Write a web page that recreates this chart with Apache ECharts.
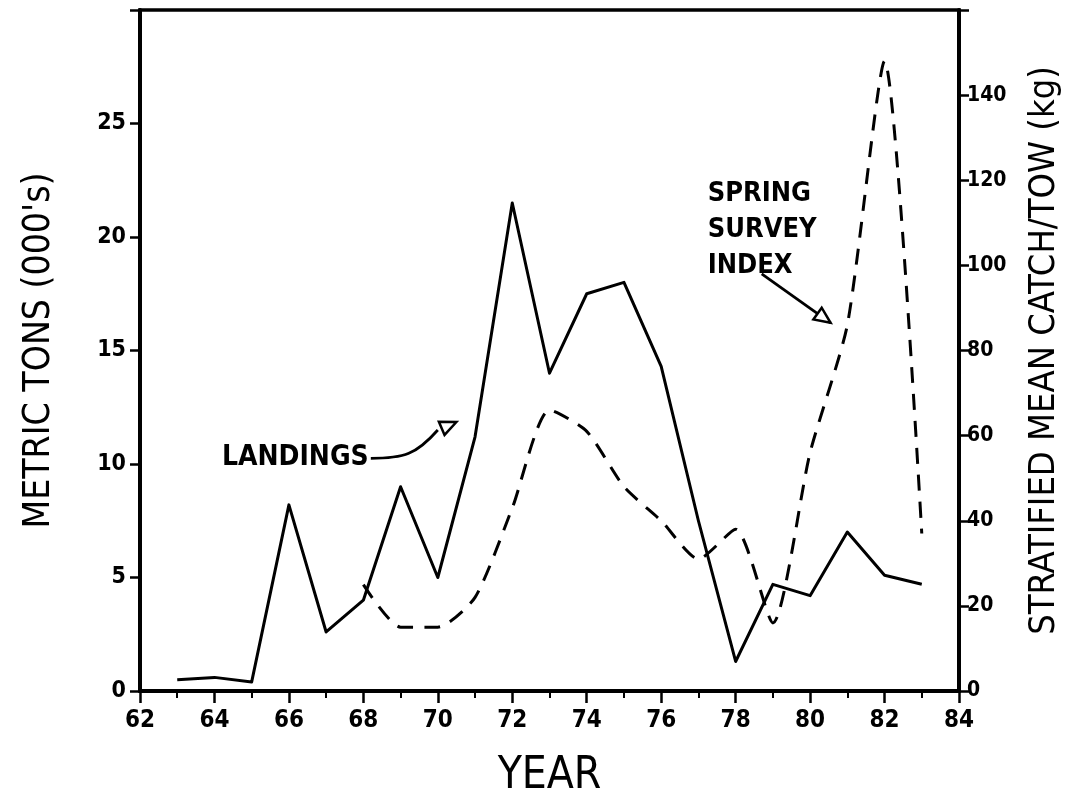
<!DOCTYPE html>
<html>
<head>
<meta charset="utf-8">
<script src="https://cdn.jsdelivr.net/npm/echarts@6/dist/echarts.min.js"></script>
<style>
  html, body { margin: 0; padding: 0; background: #fff; }
  #chart { width: 1077px; height: 805px; }
</style>
</head>
<body>
<div id="chart"></div>
<script>
// Commercial landings (thousands of metric tons), 1963-1983
const landingYears = [63, 64, 65, 66, 67, 68, 69, 70, 71, 72, 73, 74, 75, 76, 77, 78, 79, 80, 81, 82, 83];
const landings = [0.5, 0.6, 0.4, 8.2, 2.6, 4.0, 9.0, 5.0, 11.2, 21.5, 14.0, 17.5, 18.0, 14.3, 7.5, 1.3, 4.7, 4.2, 7.0, 5.1, 4.7];

// Spring survey index: stratified mean catch per tow (kg), 1968-1983
const surveyYears = [68, 69, 70, 71, 72, 73, 74, 75, 76, 77, 78, 79, 80, 81, 82, 83];
const surveyIndex = [25, 15, 15, 22, 43, 66, 61, 48, 40, 31, 38, 16, 56, 86, 148, 37];

// Axis tick values
const yearTicks = [62, 64, 66, 68, 70, 72, 74, 76, 78, 80, 82, 84];
const tonTicks = [0, 5, 10, 15, 20, 25];
const catchTicks = [0, 20, 40, 60, 80, 100, 120, 140];

const FONT = '"DejaVu Sans Condensed", "Liberation Sans Narrow", "DejaVu Sans", sans-serif';
const INK = '#000';

const chart = echarts.init(document.getElementById('chart'), null, { renderer: 'canvas' });

const tickLabel = (list) => (v) => (list.indexOf(v) >= 0 ? String(v) : '');

const option = {
  backgroundColor: '#fff',
  animation: false,
  grid: {
    left: 140, right: 118, top: 10, bottom: 114,
    show: true, borderColor: INK, borderWidth: 3.5, backgroundColor: 'transparent'
  },
  xAxis: {
    type: 'value', min: 62, max: 84, interval: 2,
    name: 'YEAR', nameLocation: 'middle', nameGap: 64,
    nameTextStyle: { fontFamily: FONT, fontSize: 44, color: INK },
    axisLine: { lineStyle: { color: INK, width: 4 } },
    axisTick: { length: 12, lineStyle: { color: INK, width: 2.5 } },
    minorTick: { show: true, splitNumber: 2, length: 7, lineStyle: { color: INK, width: 2 } },
    splitLine: { show: false },
    axisLabel: { fontFamily: FONT, fontWeight: 'bold', fontSize: 24, color: INK, margin: 18, formatter: tickLabel(yearTicks) }
  },
  yAxis: [
    {
      type: 'value', min: 0, max: 30, interval: 5, position: 'left',
      name: "METRIC TONS (000's)", nameLocation: 'middle', nameGap: 82, nameRotate: 90,
      nameTextStyle: { fontFamily: FONT, fontSize: 37, color: INK },
      axisLine: { show: true, lineStyle: { color: INK, width: 4 } },
      axisTick: { show: true, length: 10, lineStyle: { color: INK, width: 2.5 } },
      splitLine: { show: false },
      axisLabel: { fontFamily: FONT, fontWeight: 'bold', fontSize: 23, color: INK, margin: 14, formatter: tickLabel(tonTicks) }
    },
    {
      type: 'value', min: 0, max: 160, interval: 20, position: 'right',
      name: 'STRATIFIED MEAN CATCH/TOW (kg)', nameLocation: 'middle', nameGap: 68, nameRotate: 90,
      nameTextStyle: { fontFamily: FONT, fontSize: 36, color: INK },
      axisLine: { show: true, lineStyle: { color: INK, width: 4 } },
      axisTick: { show: true, length: 10, lineStyle: { color: INK, width: 2.5 } },
      splitLine: { show: false },
      axisLabel: { fontFamily: FONT, fontWeight: 'bold', fontSize: 21, color: INK, margin: 8, formatter: tickLabel(catchTicks) }
    }
  ],
  series: [
    {
      name: 'LANDINGS', type: 'line', yAxisIndex: 0,
      data: landingYears.map((y, i) => [y, landings[i]]),
      symbol: 'none',
      lineStyle: { color: INK, width: 3, join: 'round' }
    },
    {
      name: 'SPRING SURVEY INDEX', type: 'line', yAxisIndex: 1,
      data: surveyYears.map((y, i) => [y, surveyIndex[i]]),
      symbol: 'none', smooth: 0.22,
      lineStyle: { color: INK, width: 3, type: [16, 11] }
    }
  ]
};

chart.setOption(option);

// Callout labels and arrows, anchored in data space
function px(year, value, axisIndex) {
  return chart.convertToPixel({ xAxisIndex: 0, yAxisIndex: axisIndex }, [year, value]);
}

function arrowHead(tip, from, size) {
  const dx = tip[0] - from[0], dy = tip[1] - from[1];
  const len = Math.hypot(dx, dy) || 1;
  const ux = dx / len, uy = dy / len;
  const bx = tip[0] - ux * size, by = tip[1] - uy * size;
  const w = size * 0.45;
  return [[tip[0], tip[1]], [bx - uy * w, by + ux * w], [bx + uy * w, by - ux * w]];
}

const landLabel = px(64.2, 10.25, 0);
const landStart = px(68.2, 10.25, 0);
const landCtrl = px(69.1, 10.25, 0);
const landTip = px(70.5, 11.85, 0);
const landBase = px(70.0, 11.5, 0);

const springLabel = px(77.25, 121, 1);
const springStart = px(78.7, 98, 1);
const springTip = px(80.55, 86.5, 1);

const headStyle = { fill: '#fff', stroke: INK, lineWidth: 2.5 };
const lineStyle = { stroke: INK, lineWidth: 2.8, fill: null };

chart.setOption({
  graphic: [
    {
      type: 'text', left: landLabel[0], top: landLabel[1] - 15,
      style: { text: 'LANDINGS', font: 'bold 28px ' + FONT, fill: INK }
    },
    {
      type: 'bezierCurve',
      shape: {
        x1: landStart[0], y1: landStart[1],
        x2: landBase[0], y2: landBase[1],
        cpx1: landCtrl[0], cpy1: landCtrl[1],
        cpx2: landCtrl[0] + 12, cpy2: landCtrl[1] - 4
      },
      style: lineStyle
    },
    {
      type: 'polygon',
      shape: { points: arrowHead(landTip, landBase, 16) },
      style: headStyle
    },
    {
      type: 'text', left: springLabel[0], top: springLabel[1],
      style: { text: 'SPRING\nSURVEY\nINDEX', font: 'bold 27px ' + FONT, fill: INK, lineHeight: 36 }
    },
    {
      type: 'line',
      shape: { x1: springStart[0], y1: springStart[1], x2: springTip[0], y2: springTip[1] },
      style: lineStyle
    },
    {
      type: 'polygon',
      shape: { points: arrowHead(springTip, springStart, 16) },
      style: headStyle
    }
  ]
});
</script>
</body>
</html>
